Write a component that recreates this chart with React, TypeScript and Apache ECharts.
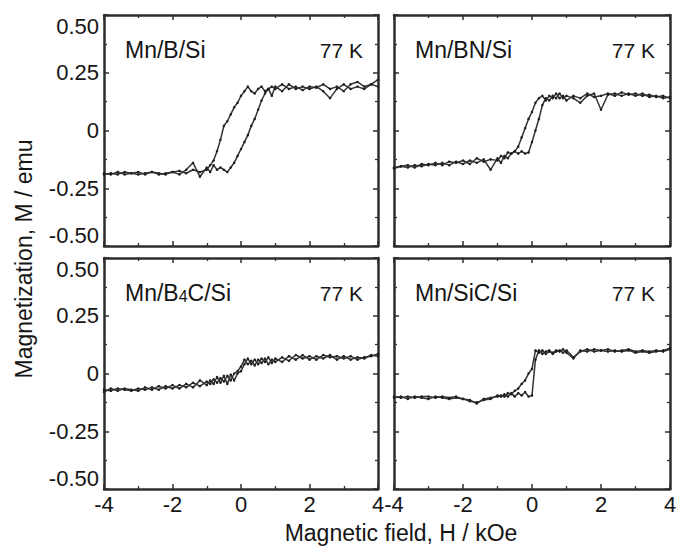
import React, { useEffect, useRef } from "react";
import * as echarts from "echarts";

// Magnetic field grid, kOe
const H = [
  -4, -3.8, -3.6, -3.4, -3.2, -3.0, -2.8, -2.6, -2.4, -2.2, -2.0, -1.8, -1.6, -1.4, -1.2,
  -1.0, -0.9, -0.8, -0.7, -0.6, -0.5, -0.4, -0.3, -0.2, -0.1, 0, 0.1, 0.2, 0.3, 0.4, 0.5, 0.6, 0.7, 0.8, 0.9, 1.0,
  1.2, 1.4, 1.6, 1.8, 2.0, 2.2, 2.4, 2.6, 2.8, 3.0, 3.2, 3.4, 3.6, 3.8, 4.0,
];

// Mn/B/Si
const MnBSi_down = [
  -0.19, -0.185, -0.19, -0.18, -0.185, -0.19, -0.185, -0.18, -0.19, -0.185, -0.18, -0.175, -0.185, -0.17, -0.18,
  -0.17, -0.15, -0.13, -0.09, -0.04, 0.02, 0.04, 0.07, 0.1, 0.12, 0.15, 0.17, 0.19, 0.17, 0.16, 0.18, 0.19, 0.17, 0.18, 0.19, 0.18,
  0.2, 0.18, 0.19, 0.175, 0.19, 0.185, 0.2, 0.18, 0.19, 0.17, 0.2, 0.21, 0.19, 0.2, 0.22,
];
const MnBSi_up = [
  -0.185, -0.19, -0.18, -0.19, -0.185, -0.18, -0.19, -0.18, -0.185, -0.19, -0.18, -0.19, -0.17, -0.14, -0.2,
  -0.16, -0.18, -0.15, -0.17, -0.16, -0.17, -0.18, -0.16, -0.14, -0.11, -0.08, -0.05, -0.02, 0.02, 0.05, 0.09, 0.13, 0.16, 0.18, 0.15, 0.19,
  0.17, 0.2, 0.18, 0.19, 0.18, 0.19, 0.17, 0.14, 0.18, 0.2, 0.18, 0.19, 0.18, 0.2, 0.19,
];

// Mn/BN/Si
const MnBNSi_down = [
  -0.16, -0.155, -0.16, -0.15, -0.155, -0.145, -0.15, -0.14, -0.15, -0.135, -0.145, -0.13, -0.14, -0.125, -0.17,
  -0.12, -0.14, -0.11, -0.12, -0.1, -0.09, -0.07, -0.03, 0.01, 0.05, 0.08, 0.12, 0.14, 0.15, 0.13, 0.15, 0.14, 0.16, 0.14, 0.15, 0.13,
  0.15, 0.14, 0.16, 0.145, 0.15, 0.16, 0.15, 0.165, 0.155, 0.16, 0.15, 0.155, 0.145, 0.15, 0.14,
];
const MnBNSi_up = [
  -0.165, -0.155, -0.15, -0.16, -0.145, -0.15, -0.14, -0.15, -0.135, -0.14, -0.13, -0.145, -0.12, -0.135, -0.125,
  -0.13, -0.11, -0.12, -0.095, -0.1, -0.09, -0.1, -0.09, -0.1, -0.095, -0.05, 0.0, 0.05, 0.11, 0.14, 0.13, 0.15, 0.14, 0.16, 0.14, 0.15,
  0.14, 0.12, 0.15, 0.16, 0.09, 0.155, 0.16, 0.15, 0.16, 0.15, 0.16, 0.145, 0.15, 0.14, 0.145,
];

// Mn/B4C/Si
const MnB4CSi_down = [
  -0.07, -0.075, -0.065, -0.07, -0.075, -0.065, -0.07, -0.06, -0.07, -0.055, -0.065, -0.05, -0.06, -0.04, -0.055,
  -0.035, -0.045, -0.025, -0.04, -0.02, -0.035, -0.01, -0.03, 0.0, 0.01, 0.03, 0.06, 0.04, 0.055, 0.035, 0.06, 0.045, 0.065, 0.04, 0.06, 0.05,
  0.07, 0.055, 0.08, 0.065, 0.075, 0.06, 0.08, 0.07, 0.075, 0.065, 0.075, 0.06, 0.07, 0.075, 0.085,
];
const MnB4CSi_up = [
  -0.08, -0.065, -0.075, -0.065, -0.07, -0.075, -0.06, -0.07, -0.055, -0.065, -0.05, -0.065, -0.045, -0.06, -0.03,
  -0.05, -0.03, -0.045, -0.015, -0.04, -0.01, -0.045, -0.005, -0.03, 0.0, 0.01, 0.04, 0.065, 0.04, 0.06, 0.04, 0.065, 0.05, 0.07, 0.045, 0.065,
  0.05, 0.075, 0.06, 0.08, 0.06, 0.075, 0.065, 0.08, 0.06, 0.075, 0.06, 0.07, 0.065, 0.08, 0.075,
];

// Mn/SiC/Si
const MnSiCSi_down = [
  -0.105, -0.1, -0.11, -0.1, -0.105, -0.11, -0.1, -0.105, -0.11, -0.105, -0.11, -0.115, -0.13, -0.11, -0.105,
  -0.1, -0.095, -0.1, -0.085, -0.09, -0.075, -0.065, -0.045, -0.03, 0.0, 0.02, 0.1, 0.09, 0.1, 0.085, 0.095, 0.09, 0.1, 0.095, 0.105, 0.09,
  0.065, 0.1, 0.095, 0.105, 0.1, 0.095, 0.1, 0.095, 0.1, 0.09, 0.095, 0.09, 0.095, 0.1, 0.11,
];
const MnSiCSi_up = [
  -0.1, -0.105, -0.1, -0.105, -0.1, -0.1, -0.105, -0.1, -0.105, -0.1, -0.11, -0.12, -0.125, -0.115, -0.11,
  -0.095, -0.1, -0.09, -0.1, -0.085, -0.1, -0.085, -0.095, -0.08, -0.1, -0.095, 0.06, 0.1, 0.085, 0.095, 0.1, 0.085, 0.095, 0.1, 0.09, 0.1,
  0.07, 0.095, 0.105, 0.095, 0.1, 0.105, 0.095, 0.1, 0.105, 0.095, 0.1, 0.095, 0.1, 0.095, 0.105,
];

const sampleLabels = ["{n|Mn/B/Si}", "{n|Mn/BN/Si}", "{n|Mn/B}{s|4}{n|C/Si}", "{n|Mn/SiC/Si}"];
const tempLabel = "77 K";
const xTitle = "Magnetic field, H / kOe";
const yTitle = "Magnetization, M / emu";

const FONT = "'Liberation Sans', Arial, Helvetica, sans-serif";
const INK = "#151515";
const FRAME = "#2e2e2e";

export default function App() {
  const ref = useRef<HTMLDivElement>(null);
  useEffect(() => {
    document.body.style.margin = "0";
    const chart = echarts.init(ref.current!, null, { renderer: "svg" });

    const panels = [
      { down: MnBSi_down, up: MnBSi_up, left: 104, top: 15, width: 274, xl: false, yl: true },
      { down: MnBNSi_down, up: MnBNSi_up, left: 394, top: 15, width: 276, xl: false, yl: false },
      { down: MnB4CSi_down, up: MnB4CSi_up, left: 104, top: 258, width: 274, xl: true, yl: true },
      { down: MnSiCSi_down, up: MnSiCSi_up, left: 394, top: 258, width: 276, xl: true, yl: false },
    ];
    const PH = 231;

    const grids: any[] = [];
    const xAxes: any[] = [];
    const yAxes: any[] = [];
    const series: any[] = [];
    const graphics: any[] = [];

    const axisLine = { show: true, onZero: false, lineStyle: { color: FRAME, width: 2.5 } };
    const tick = { show: true, inside: true, length: 5, lineStyle: { color: FRAME, width: 1.5 } };
    const minor = { show: true, splitNumber: 2, length: 3, lineStyle: { color: FRAME, width: 1.3 } };

    panels.forEach((p, i) => {
      grids.push({ left: p.left, top: p.top, width: p.width, height: PH, containLabel: false });
      ["bottom", "top"].forEach((pos, k) => {
        xAxes.push({
          type: "value",
          gridIndex: i,
          position: pos,
          min: -4,
          max: 4,
          interval: 2,
          axisLine,
          axisTick: tick,
          minorTick: minor,
          splitLine: { show: false },
          axisLabel: {
            show: k === 0 && p.xl,
            fontSize: 22,
            fontFamily: FONT,
            color: INK,
            margin: 4,
            formatter: (v: number) => String(v),
          },
        });
      });
      ["left", "right"].forEach((pos, k) => {
        yAxes.push({
          type: "value",
          gridIndex: i,
          position: pos,
          min: -0.5,
          max: 0.5,
          interval: 0.25,
          axisLine,
          axisTick: tick,
          minorTick: minor,
          splitLine: { show: false },
          axisLabel: {
            show: k === 0 && p.yl,
            fontSize: 22,
            fontFamily: FONT,
            color: INK,
            margin: 5,
            verticalAlignMaxLabel: "top",
            verticalAlignMinLabel: "bottom",
            formatter: (v: number) => (v === 0 ? "0" : v.toFixed(2)),
          },
        });
      });
      [p.down, p.up].forEach((arr) => {
        series.push({
          type: "line",
          xAxisIndex: 2 * i,
          yAxisIndex: 2 * i,
          data: H.map((h, j) => [h, arr[j]]),
          symbol: "circle",
          symbolSize: 2.5,
          showSymbol: true,
          silent: true,
          lineStyle: { color: "#333", width: 1.5 },
          itemStyle: { color: "#1e1e1e" },
        });
      });
      graphics.push({
        type: "text",
        x: p.left + 21,
        y: p.top + 35,
        style: {
          text: sampleLabels[i],
          rich: {
            n: { fontSize: 23, fontFamily: FONT, fill: INK, color: INK },
            s: { fontSize: 16, fontFamily: FONT, fill: INK, color: INK, padding: [7, 0, 0, 0] },
          },
          textVerticalAlign: "middle",
          verticalAlign: "middle",
          textAlign: "left",
          align: "left",
        },
      });
      graphics.push({
        type: "text",
        x: p.left + p.width - 15,
        y: p.top + 35,
        style: {
          text: tempLabel,
          fontSize: 21,
          fontFamily: FONT,
          fill: INK,
          textAlign: "right",
          align: "right",
          textVerticalAlign: "middle",
          verticalAlign: "middle",
        },
      });
    });

    graphics.push({
      type: "text",
      x: 401,
      y: 533,
      style: {
        text: xTitle,
        fontSize: 23,
        fontFamily: FONT,
        fill: INK,
        textAlign: "center",
        align: "center",
        textVerticalAlign: "middle",
        verticalAlign: "middle",
      },
    });
    graphics.push({
      type: "text",
      x: 24,
      y: 259,
      rotation: Math.PI / 2,
      style: {
        text: yTitle,
        fontSize: 23,
        fontFamily: FONT,
        fill: INK,
        textAlign: "center",
        align: "center",
        textVerticalAlign: "middle",
        verticalAlign: "middle",
      },
    });

    chart.setOption({
      animation: false,
      backgroundColor: "#ffffff",
      grid: grids,
      xAxis: xAxes,
      yAxis: yAxes,
      series,
      graphic: graphics,
    });
    return () => chart.dispose();
  }, []);
  return <div ref={ref} style={{ width: 688, height: 548 }} />;
}
